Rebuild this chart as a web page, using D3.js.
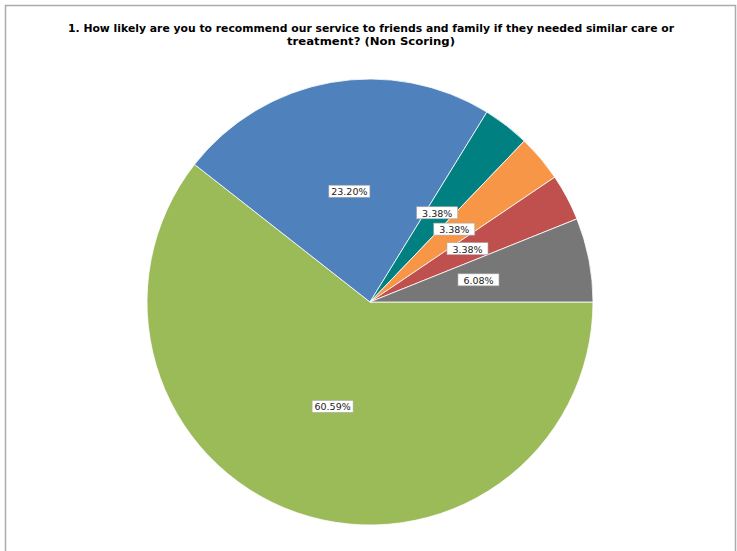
<!DOCTYPE html>
<html>
<head>
<meta charset="utf-8">
<script src="https://cdn.jsdelivr.net/npm/d3@7"></script>
<style>
  body { margin: 0; background: #fff; }
  svg { display: block; }
</style>
</head>
<body>
<div class="chart"></div>
<script>
const categories = ['Extremely likely', 'Likely', 'Neither likely nor unlikely', 'Unlikely', 'Extremely unlikely', "Don't know"];
const values = [60.59, 23.20, 3.38, 3.38, 3.38, 6.08];
const colors = ['#9bbb59', '#4f81bd', '#008080', '#f79646', '#c0504d', '#777777'];
const titleLines = [
    '1. How likely are you to recommend our service to friends and family if they needed similar care or',
    'treatment? (Non Scoring)'
];
const titleWidths = [606, 168];

const width = 737, height = 551;
const cx = 370, cy = 302, radius = 223;

const svg = d3.select('.chart')
    .append('svg')
    .attr('width', width)
    .attr('height', height);

// frame
svg.append('path')
    .attr('d', `M5.5,${height} V5.5 H735.5 V${height}`)
    .attr('fill', 'none')
    .attr('stroke', '#ababab')
    .attr('stroke-width', 1.5);

svg.selectAll('.title')
    .data(titleLines)
    .enter()
    .append('text')
    .attr('class', 'title')
    .attr('x', 371)
    .attr('y', (d, i) => 32 + i * 13)
    .attr('text-anchor', 'middle')
    .attr('font-family', 'DejaVu Sans, Verdana, sans-serif')
    .attr('font-weight', 'bold')
    .attr('font-size', 11)
    .attr('textLength', (d, i) => titleWidths[i])
    .attr('lengthAdjust', 'spacingAndGlyphs')
    .attr('fill', '#000')
    .text(d => d);

const data = categories.map((c, i) => ({name: c, value: values[i], color: colors[i]}));

const pie = d3.pie()
    .sort(null)
    .value(d => d.value)
    .startAngle(Math.PI / 2)
    .endAngle(Math.PI / 2 + 2 * Math.PI);

const arc = d3.arc().innerRadius(0).outerRadius(radius);
const labelArc = d3.arc().innerRadius(radius * 0.5).outerRadius(radius * 0.5);

const g = svg.append('g')
    .attr('transform', `translate(${cx},${cy})`);

const arcs = pie(data);

g.selectAll('path')
    .data(arcs)
    .enter()
    .append('path')
    .attr('d', arc)
    .attr('fill', d => d.data.color)
    .attr('stroke', '#fff')
    .attr('stroke-width', 0.8);

const labels = g.selectAll('.lbl')
    .data(arcs)
    .enter()
    .append('g')
    .attr('class', 'lbl')
    .attr('transform', d => {
        const c = labelArc.centroid(d);
        return `translate(${c[0] - 1},${c[1] - 1})`;
    });

labels.append('rect')
    .attr('x', -20.5)
    .attr('y', -6)
    .attr('width', 41)
    .attr('height', 12)
    .attr('fill', '#fff')
    .attr('stroke', '#aaa')
    .attr('stroke-width', 0.6);

labels.append('text')
    .attr('text-anchor', 'middle')
    .attr('y', 4)
    .attr('font-family', 'DejaVu Sans, Verdana, sans-serif')
    .attr('font-size', 9.5)
    .attr('fill', '#222')
    .text(d => d.data.value.toFixed(2) + '%');
</script>
</body>
</html>
